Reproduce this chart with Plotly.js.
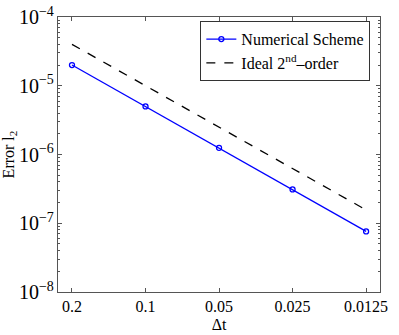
<!DOCTYPE html>
<html>
<head>
<meta charset="utf-8">
<script src="https://cdn.plot.ly/plotly-3.0.1.min.js"></script>
<style>
  html, body { margin: 0; padding: 0; background: #fff; }
  #chart { width: 399px; height: 335px; }
</style>
</head>
<body>
<div id="chart"></div>
<script>
// Time step sizes (x axis, shown reversed)
const dt = [0.2, 0.1, 0.05, 0.025, 0.0125];
const dtLabels = ['0.2', '0.1', '0.05', '0.025', '0.0125'];
// L2 error of the numerical scheme
const errScheme = [2.0e-5, 5.0e-6, 1.25e-6, 3.1e-7, 7.6e-8];
// Reference slope for ideal second-order convergence
const errIdeal = [4.0e-5, 1.0e-5, 2.5e-6, 6.25e-7, 1.5625e-7];

const serif = 'Liberation Serif';

const traces = [
  {
    x: dt, y: errScheme,
    name: 'Numerical Scheme',
    type: 'scatter', mode: 'lines+markers',
    line: { color: '#0000ff', width: 1.3 },
    marker: { symbol: 'circle-open', size: 5, color: '#0000ff', line: { width: 1.3 } }
  },
  {
    x: dt, y: errIdeal,
    name: 'Ideal 2<sup>nd</sup>\u2013order',
    type: 'scatter', mode: 'lines',
    line: { color: '#000000', width: 1.3, dash: 'dash' }
  }
];

const layout = {
  width: 399, height: 335,
  margin: { l: 58, r: 19, t: 17, b: 43 },
  paper_bgcolor: '#ffffff', plot_bgcolor: '#ffffff',
  font: { family: serif, size: 16, color: '#000' },
  showlegend: true,
  legend: {
    x: 0.97, y: 0.985, xanchor: 'right', yanchor: 'top',
    bordercolor: '#333', borderwidth: 1, bgcolor: '#fff',
    font: { family: serif, size: 16, color: '#000' },
    itemwidth: 30,
    tracegroupgap: 0
  },
  xaxis: {
    type: 'log',
    range: [-0.6417, -1.960],
    tickvals: dt, ticktext: dtLabels,
    ticks: 'inside', ticklen: 4, tickcolor: '#555',
    showgrid: false, zeroline: false,
    showline: true, linecolor: '#555', linewidth: 1, mirror: 'ticks',
    title: { text: '\u0394t', font: { family: serif, size: 16 }, standoff: 4 }
  },
  yaxis: {
    type: 'log',
    range: [-8, -4],
    dtick: 1, exponentformat: 'power',
    ticks: 'inside', ticklen: 4, tickcolor: '#555',
    minor: { ticks: 'inside', ticklen: 2, tickcolor: '#555' },
    showgrid: false, zeroline: false,
    showline: true, linecolor: '#555', linewidth: 1, mirror: 'ticks',
    title: { text: 'Error l<sub>2</sub>', font: { family: serif, size: 16 }, standoff: 2 }
  }
};

Plotly.newPlot('chart', traces, layout, { staticPlot: true });
</script>
</body>
</html>
